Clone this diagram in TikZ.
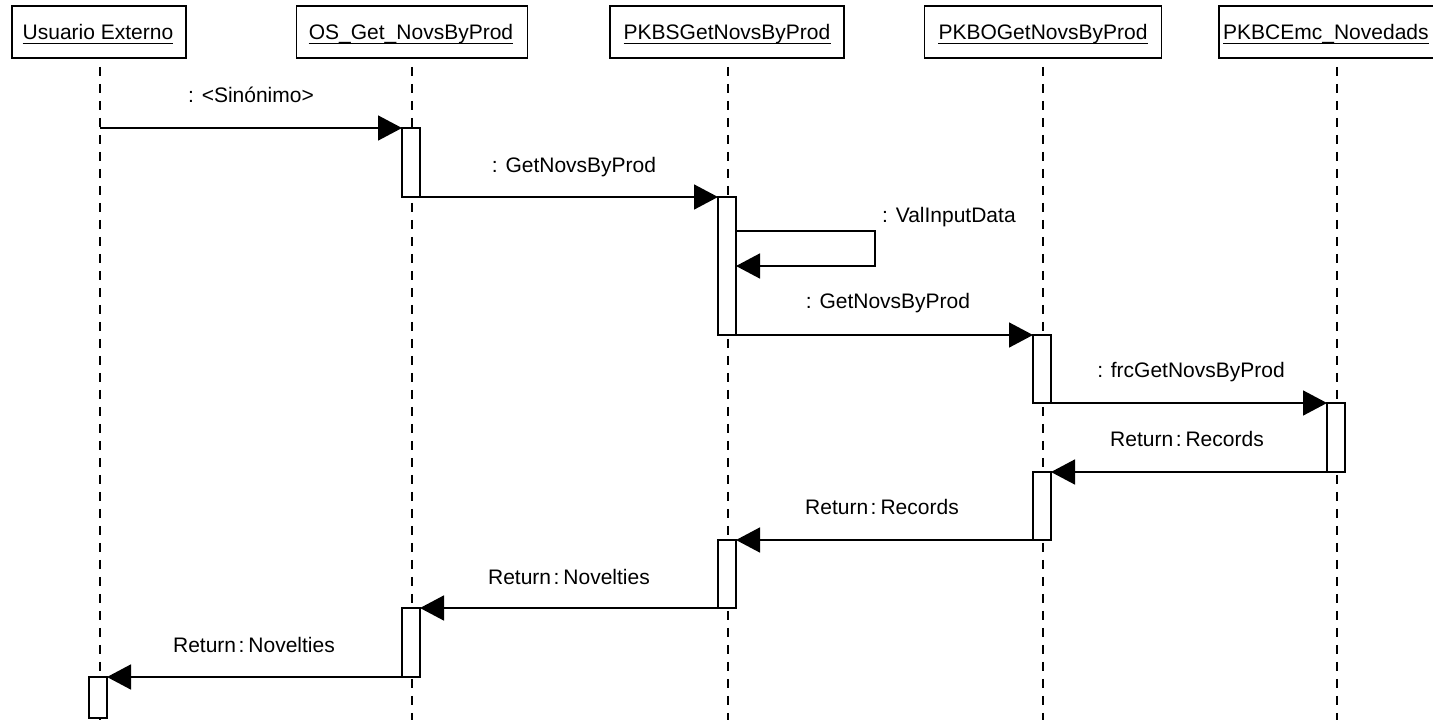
\documentclass[tikz,border=0pt]{standalone}
\usepackage{fontspec}
\setmainfont{Liberation Sans}
\usetikzlibrary{arrows.meta,calc}
\newcommand{\rsep}{\hspace{2.5pt}:\hspace{4pt}}
\begin{document}
\begin{tikzpicture}[x=1pt,y=1pt,
  font=\fontsize{21}{24}\selectfont,
  headbox/.style={draw,line width=1.6pt,minimum height=52pt,inner sep=0pt,fill=white},
  headtext/.style={inner sep=0pt,anchor=base},
  uline/.style={line width=1.4pt},
  lifeline/.style={line width=1.4pt,dash pattern=on 9pt off 8pt,dash phase=9pt},
  actbox/.style={draw,line width=1.6pt,fill=white,minimum width=18pt,inner sep=0pt,outer sep=0pt},
  msg/.style={line width=1.6pt,-{Triangle[length=24pt,width=25pt]}},
  lbl/.style={inner sep=0pt,anchor=base}
]
\clip (0,0) rectangle (1433,-720);
\fill[white] (0,0) rectangle (1433,-720);

% object headers
\node[headbox,minimum width=174pt] (h1) at (99,-32) {};
\node[headbox,minimum width=231pt] (h2) at (412,-32) {};
\node[headbox,minimum width=234pt] (h3) at (727,-32) {};
\node[headbox,minimum width=237pt] (h4) at (1043,-32) {};
\node[headbox,minimum width=240pt] (h5) at (1339,-32) {};

\node[headtext] (t1) at (98,-39) {Usuario Externo};
\node[headtext] (t2) at (411,-39) {OS\_Get\_NovsByProd};
\node[headtext] (t3) at (727,-39) {PKBSGetNovsByProd};
\node[headtext] (t4) at (1043,-39) {PKBOGetNovsByProd};
\node[headtext,anchor=base west] (t5) at (1223,-39) {PKBCEmc\_Novedads};
\foreach \t in {t1,t2,t3,t4,t5}
  \draw[uline] ($(\t.base west)+(0,-4.5)$) -- ($(\t.base east)+(0,-4.5)$);

% lifelines
\coordinate (e1) at (100,-720);
\coordinate (e2) at (412,-720);
\coordinate (e3) at (728,-720);
\coordinate (e4) at (1043,-720);
\coordinate (e5) at (1337,-720);
\draw[lifeline] (h1.south -| e1) -- (e1);
\draw[lifeline] (h2.south -| e2) -- (e2);
\draw[lifeline] (h3.south -| e3) -- (e3);
\draw[lifeline] (h4.south -| e4) -- (e4);
\draw[lifeline] (h5.south -| e5) -- (e5);

% activations
\node[actbox,minimum height=69pt]  (a1) at (411,-162.5) {};
\node[actbox,minimum height=138pt] (a2) at (727,-266) {};
\node[actbox,minimum height=68pt]  (a3) at (1042,-369) {};
\node[actbox,minimum height=69pt]  (a4) at (1336,-437.5) {};
\node[actbox,minimum height=68pt]  (a5) at (1042,-506) {};
\node[actbox,minimum height=68pt]  (a6) at (727,-574) {};
\node[actbox,minimum height=69pt]  (a7) at (411,-642.5) {};
\node[actbox,minimum height=41pt]  (a8) at (98,-697.5) {};

% messages
\coordinate (u0) at (100,-128);
\draw[msg] (u0) -- (a1.north west);
\draw[msg] (a1.south east) -- (a2.north west);
\coordinate (v1) at ($(a2.north east)+(0,-34)$);
\coordinate (v2) at ($(a2.north east)+(0,-69)$);
\draw[msg] (v1) -- ++(139,0) |- (v2);
\draw[msg] (a2.south east) -- (a3.north west);
\draw[msg] (a3.south east) -- (a4.north west);
\draw[msg] (a4.south west) -- (a5.north east);
\draw[msg] (a5.south west) -- (a6.north east);
\draw[msg] (a6.south west) -- (a7.north east);
\draw[msg] (a7.south west) -- (a8.north east);

% message labels
\node[lbl] (m1) at (251,-102) {: <Sinónimo>};
\node[lbl] (m2) at (574,-172) {: GetNovsByProd};
\node[lbl,anchor=base west] (m3) at (882,-222) {: ValInputData};
\node[lbl] (m4) at (888,-308) {: GetNovsByProd};
\node[lbl] (m5) at (1191,-377) {: frcGetNovsByProd};
\node[lbl] (m6) at (1187,-446) {Return\rsep Records};
\node[lbl] (m7) at (882,-514) {Return\rsep Records};
\node[lbl] (m8) at (569,-584) {Return\rsep Novelties};
\node[lbl] (m9) at (254,-652) {Return\rsep Novelties};
\end{tikzpicture}
\end{document}
